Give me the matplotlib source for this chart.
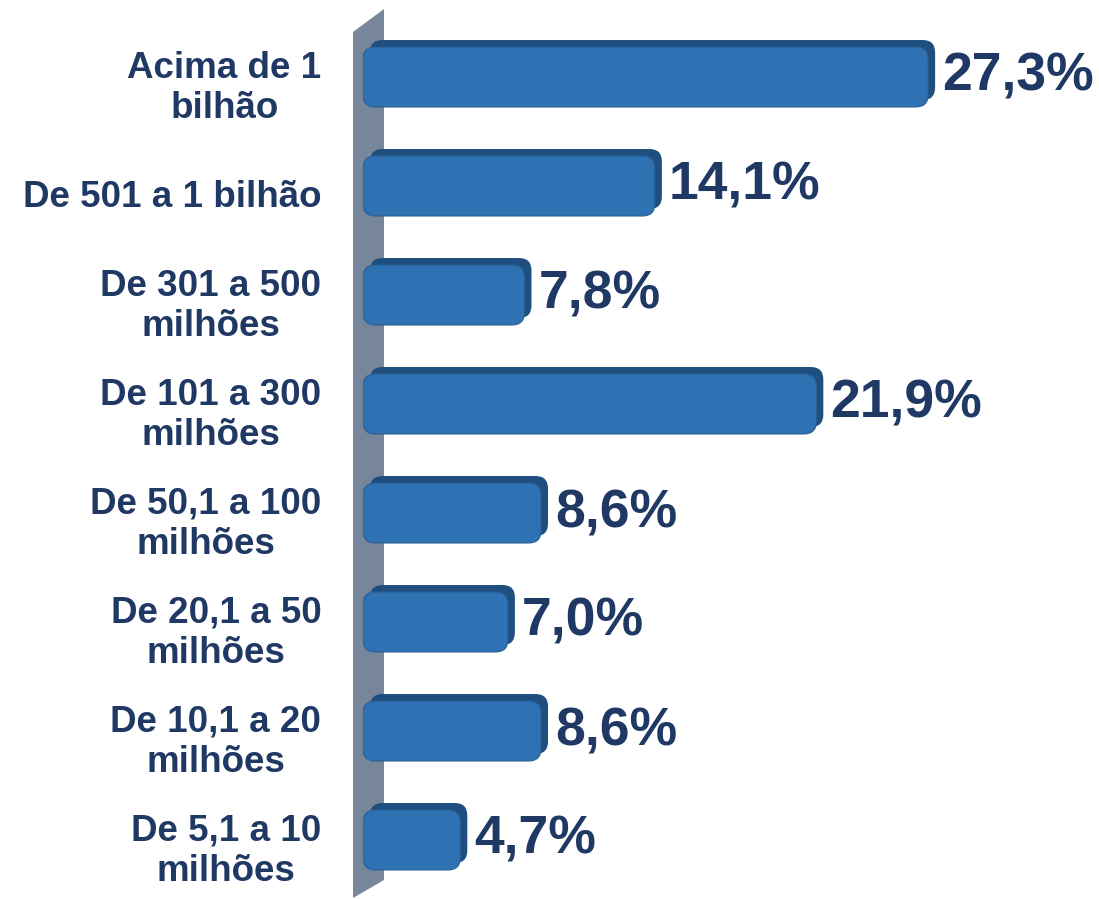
import numpy as np
import matplotlib.pyplot as plt
from matplotlib.patches import FancyBboxPatch, Polygon
from matplotlib.transforms import offset_copy

plt.rcParams['font.family'] = ['Liberation Sans', 'DejaVu Sans']
plt.rcParams['font.weight'] = 'bold'

categorias = ['Acima de 1\nbilhão', 'De 501 a 1 bilhão', 'De 301 a 500\nmilhões',
              'De 101 a 300\nmilhões', 'De 50,1 a 100\nmilhões', 'De 20,1 a 50\nmilhões',
              'De 10,1 a 20\nmilhões', 'De 5,1 a 10\nmilhões']
valori = [27.3, 14.1, 7.8, 21.9, 8.6, 7.0, 8.6, 4.7]
etichette = ['27,3%', '14,1%', '7,8%', '21,9%', '8,6%', '7,0%', '8,6%', '4,7%']

W, H = 1099, 899
fig = plt.figure(figsize=(W / 100, H / 100), dpi=100)

navy = '#1f3864'
faccia = '#2e72b3'
scuro = '#1f4f7f'

# assi: x in %, y categorie
x0 = 363
pxu = 20.7
xmax = 30
ytop, ybot = 22.5, 894.5
ax = fig.add_axes([x0 / W, 1 - ybot / H, xmax * pxu / W, (ybot - ytop) / H])
ax.set_xlim(0, xmax)
ax.set_ylim(len(valori) - 0.5, -0.5)
ax.axis('off')

# parete grigia (dietro le barre)
wall = Polygon([(353 / W, 1 - 32 / H), (384 / W, 1 - 9 / H), (384 / W, 1 - 880 / H), (353 / W, 1 - 898 / H)],
               closed=True, transform=fig.transFigure, facecolor='#77869b', edgecolor='none', zorder=-1)
fig.patches.append(wall)

ypx = (ybot - ytop) / len(valori)
asp = pxu / ypx
h = 0.55
depth = offset_copy(ax.transData, fig=fig, x=7, y=7, units='dots')

bars = ax.barh(range(len(valori)), valori, height=h, color='none')
for b in bars:
    x, y = b.get_x(), b.get_y()
    w, hh = b.get_width(), b.get_height()
    r = 0.6
    back = FancyBboxPatch((x, y), w, hh, boxstyle=f'round,pad=0,rounding_size={r}',
                          mutation_aspect=asp, facecolor=scuro, edgecolor='none',
                          transform=depth, zorder=2)
    ax.add_patch(back)
    front = FancyBboxPatch((x, y), w, hh, boxstyle=f'round,pad=0,rounding_size={r}',
                           mutation_aspect=asp, facecolor=faccia, edgecolor='#2a5f93',
                           linewidth=0.8, zorder=3)
    ax.add_patch(front)

for i, (v, t) in enumerate(zip(valori, etichette)):
    ax.annotate(t, xy=(v, i), xytext=(10, 0), textcoords='offset points',
                ha='left', va='center', fontsize=38.5, color=navy, fontweight='bold',
                bbox=dict(boxstyle='square,pad=0.1', facecolor='white', edgecolor='none'), zorder=4)

for i, c in enumerate(categorias):
    ax.annotate(c, xy=(0, i), xycoords=('axes fraction', 'data'), xytext=(-30, -8),
                textcoords='offset points', ha='right', va='center', multialignment='center',
                fontsize=26.5, color=navy, fontweight='bold', linespacing=1.18)

fig.savefig('out.png', dpi=100, facecolor='white')
